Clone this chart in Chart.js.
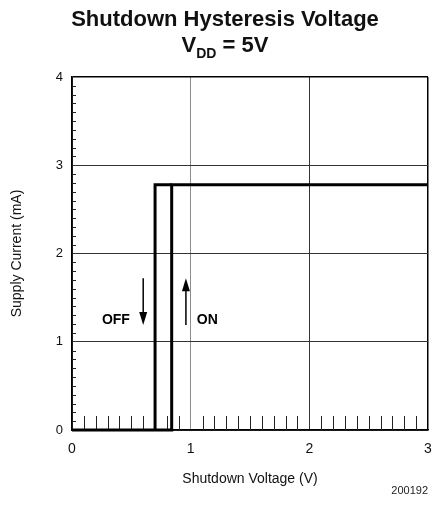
<!DOCTYPE html>
<html>
<head>
<meta charset="utf-8">
<script src="https://cdn.jsdelivr.net/npm/chart.js@4.4.1/dist/chart.umd.min.js"></script>
<style>
  html, body { margin: 0; padding: 0; background: #fff; }
  #wrap { position: relative; width: 435px; height: 518px; }
  #title { position: absolute; left: 15px; top: 6px; width: 420px; text-align: center;
    font: bold 22px "Liberation Sans", Arial, sans-serif; line-height: 26px; color: #111; }
  #title .sub { font-size: 14px; position: relative; top: 6px; }
</style>
</head>
<body>
<div id="wrap">
  <canvas id="chart" width="435" height="518"></canvas>
  <div id="title">Shutdown Hysteresis Voltage<br>V<span class="sub">DD</span> = 5V</div>
</div>
<script>
// turn-on path (rising voltage) and turn-off path (falling voltage)
const onVolts = [0, 0.84, 0.84, 3];
const onCurrent = [0, 0, 2.78, 2.78];
const offVolts = [0.70, 0.70, 0.84];
const offCurrent = [0, 2.78, 2.78];

const xTicks = [0, 1, 2, 3];
const yTicks = [0, 1, 2, 3, 4];

// arrows + labels, in data units
const arrows = [
  { label: 'OFF', x: 0.60, from: 1.72, to: 1.19, labelX: 0.37, labelY: 1.25 },
  { label: 'ON', x: 0.96, from: 1.19, to: 1.72, labelX: 1.14, labelY: 1.25 }
];

const FONT = '"Liberation Sans", Arial, sans-serif';

const toPoints = (xs, ys) => xs.map((x, i) => ({ x: x, y: ys[i] }));

const extras = {
  id: 'extras',
  beforeDatasetsDraw(chart) {
    const { ctx, scales: { x, y } } = chart;
    ctx.save();
    ctx.strokeStyle = '#222';
    ctx.lineWidth = 1;
    // minor ticks along the bottom (inside)
    for (let i = 1; i < 30; i++) {
      if (i % 10 === 0) continue;
      const px = Math.round(x.getPixelForValue(i / 10)) + 0.5;
      ctx.beginPath();
      ctx.moveTo(px, y.bottom);
      ctx.lineTo(px, y.bottom - 14);
      ctx.stroke();
    }
    // minor ticks along the left (inside)
    for (let j = 1; j < 40; j++) {
      if (j % 10 === 0) continue;
      const py = Math.round(y.getPixelForValue(j / 10)) + 0.5;
      ctx.beginPath();
      ctx.moveTo(x.left, py);
      ctx.lineTo(x.left + 4, py);
      ctx.stroke();
    }
    ctx.restore();
  },
  afterDatasetsDraw(chart) {
    const { ctx, scales: { x, y } } = chart;
    ctx.save();
    ctx.strokeStyle = '#000';
    ctx.fillStyle = '#000';
    ctx.lineWidth = 1.5;
    arrows.forEach(a => {
      const px = x.getPixelForValue(a.x);
      const y0 = y.getPixelForValue(a.from);
      const y1 = y.getPixelForValue(a.to);
      const dir = y1 > y0 ? 1 : -1;
      ctx.beginPath();
      ctx.moveTo(px, y0);
      ctx.lineTo(px, y1 - dir * 10);
      ctx.stroke();
      ctx.beginPath();
      ctx.moveTo(px, y1);
      ctx.lineTo(px - 4, y1 - dir * 13);
      ctx.lineTo(px + 4, y1 - dir * 13);
      ctx.closePath();
      ctx.fill();
      ctx.font = 'bold 14px ' + FONT;
      ctx.textAlign = 'center';
      ctx.textBaseline = 'middle';
      ctx.fillText(a.label, x.getPixelForValue(a.labelX), y.getPixelForValue(a.labelY));
    });
    ctx.font = '11px ' + FONT;
    ctx.textAlign = 'right';
    ctx.textBaseline = 'middle';
    ctx.fillStyle = '#222';
    ctx.fillText('200192', x.right, 491);
    ctx.restore();
  }
};

const gridColor = (ctx, max) => {
  const v = ctx.tick.value;
  if (v === max) return '#000';
  if (max === 3 && v === 1) return '#8c8c8c';
  return '#333';
};

new Chart(document.getElementById('chart'), {
  type: 'line',
  data: {
    datasets: [
      {
        label: 'ON',
        data: toPoints(onVolts, onCurrent),
        borderColor: '#000',
        borderWidth: 3,
        pointRadius: 0,
        tension: 0,
        clip: false
      },
      {
        label: 'OFF',
        data: toPoints(offVolts, offCurrent),
        borderColor: '#000',
        borderWidth: 3,
        pointRadius: 0,
        tension: 0,
        clip: false
      }
    ]
  },
  options: {
    responsive: false,
    animation: false,
    layout: { padding: { top: 77, right: 7, bottom: 0, left: 0 } },
    plugins: { legend: { display: false }, tooltip: { enabled: false } },
    scales: {
      x: {
        type: 'linear',
        min: 0,
        max: 3,
        afterBuildTicks: s => { s.ticks = xTicks.map(v => ({ value: v })); },
        afterFit: s => { s.height = 88; s.paddingLeft = 0; s.paddingRight = 0; },
        ticks: { color: '#111', font: { family: FONT, size: 14 }, padding: 11 },
        grid: {
          drawTicks: false,
          color: c => gridColor(c, 3),
          lineWidth: c => (c.tick.value === 3 ? 1.5 : 1)
        },
        border: { color: '#000', width: 1.5 },
        title: {
          display: true,
          text: 'Shutdown Voltage (V)',
          color: '#111',
          font: { family: FONT, size: 14 },
          padding: { top: 0, bottom: 30 }
        }
      },
      y: {
        min: 0,
        max: 4,
        afterBuildTicks: s => { s.ticks = yTicks.map(v => ({ value: v })); },
        afterFit: s => { s.width = 72; s.paddingTop = 0; s.paddingBottom = 0; },
        ticks: { color: '#111', font: { family: FONT, size: 13 }, padding: 9 },
        grid: {
          drawTicks: false,
          color: c => gridColor(c, 4),
          lineWidth: c => (c.tick.value === 4 ? 1.5 : 1)
        },
        border: { color: '#000', width: 1.5 },
        title: {
          display: true,
          text: 'Supply Current (mA)',
          color: '#111',
          font: { family: FONT, size: 14 },
          padding: { top: 9, bottom: 0 }
        }
      }
    }
  },
  plugins: [extras]
});
</script>
</body>
</html>
